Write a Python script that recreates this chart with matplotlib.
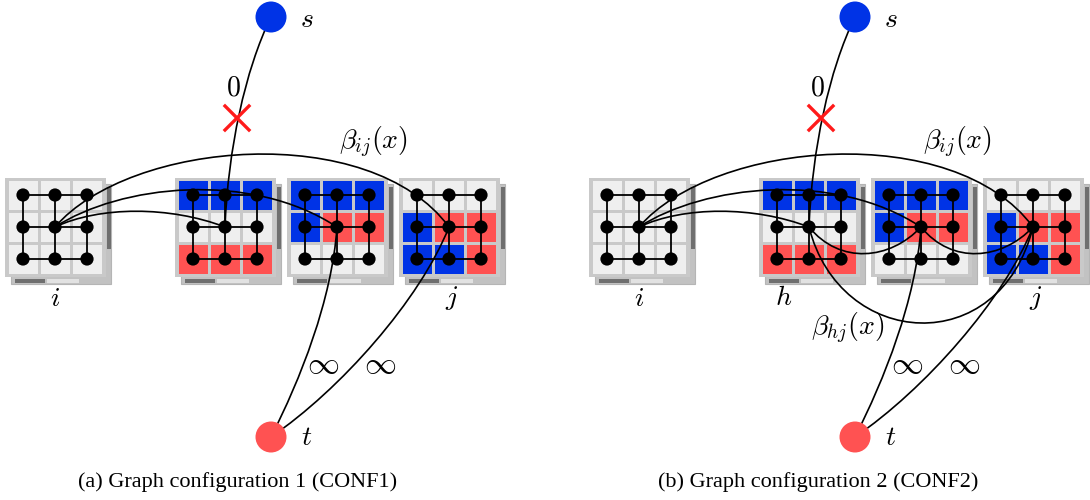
import numpy as np
import matplotlib.pyplot as plt
from matplotlib.patches import Rectangle, Circle, PathPatch
from matplotlib.path import Path

plt.rcParams['mathtext.fontset'] = 'cm'

#------------------------------------------------ Colours & Layout -----------------------------------------------------
BLUE = '#0033e6'
RED = '#ff5252'
LIGHT = '#efefef'
FRAME = '#c9c9c9'
SHADOW = '#c2c2c2'
DARK = '#6f6f6f'

SHIFT_B = 584          # horizontal offset of panel (b)
ROW_Y = 227            # y of the centre row of every grid
STEP = 32              # node spacing inside a grid

# Cell colours per grid (rows top -> bottom), "L" = light grey, "B" = blue, "R" = red
grid_colours = {
    'i':  ["LLL", "LLL", "LLL"],
    'g2': ["BBB", "LLL", "RRR"],
    'g3': ["BBB", "BRR", "LLL"],
    'j':  ["LLL", "BRR", "BBR"],
}
grid_x = {'i': 55, 'g2': 225, 'g3': 337, 'j': 449}
COLMAP = {'L': LIGHT, 'B': BLUE, 'R': RED}

# Source / sink terminals
s_xy = (271, 17)
t_xy = (271, 437)

# Cubic Bezier edges for panel (a): (P0, P1, P2, P3)
edges_a = [
    [(271, 17), (245, 70), (228, 150), (225, 227)],      # s -> grid 2
    [(55, 227), (130, 140), (370, 120), (449, 227)],     # i -> j (beta_ij)
    [(55, 227), (120, 185), (250, 170), (337, 227)],     # i -> grid 3
    [(55, 227), (100, 206), (170, 206), (225, 227)],     # i -> grid 2
    [(271, 437), (300, 380), (332, 300), (337, 227)],    # t -> grid 3
    [(271, 437), (340, 390), (420, 300), (449, 227)],    # t -> j
]
# Extra edges only in panel (b) (already in (b) coordinates)
edges_b_extra = [
    [(809, 227), (840, 265), (890, 260), (921, 227)],    # h -> grid 3
    [(921, 227), (952, 265), (1002, 260), (1033, 227)],  # grid 3 -> j
    [(809, 227), (840, 350), (1000, 360), (1033, 227)],  # h -> j (beta_hj)
]

cross_xy = (237, 118)

fig = plt.figure(figsize=(10.9, 5.0), dpi=100)
ax = fig.add_axes([0, 0, 1, 1])
ax.set_xlim(0, 1090)
ax.set_ylim(500, 0)
ax.axis('off')


def draw_grid(cx, cy, rows):
    # back panel ("shadow" window)
    ax.add_patch(Rectangle((cx - 44, cy - 43), 100, 100, fc=SHADOW, ec='#b5b5b5', lw=0.8, zorder=1))
    ax.add_patch(Rectangle((cx + 52, cy - 40), 3.5, 62, fc=DARK, ec='none', zorder=1.1))
    ax.add_patch(Rectangle((cx - 40, cy + 52), 30, 3.5, fc=DARK, ec='none', zorder=1.1))
    ax.add_patch(Rectangle((cx - 8, cy + 52), 32, 3.5, fc='#e2e2e2', ec='none', zorder=1.1))
    # front frame
    ax.add_patch(Rectangle((cx - 50, cy - 49), 101, 99, fc=FRAME, ec='none', zorder=2))
    for r, row in enumerate(rows):
        for c, code in enumerate(row):
            x = cx + (c - 1) * STEP
            y = cy + (r - 1) * STEP
            ax.add_patch(Rectangle((x - 14.5, y - 14.5), 29, 29, fc=COLMAP[code], ec='none', zorder=2.1))
    # lattice edges
    xs = [cx - STEP, cx, cx + STEP]
    ys = [cy - STEP, cy, cy + STEP]
    for y in ys:
        ax.plot([xs[0], xs[-1]], [y, y], color='black', lw=1.3, zorder=3)
    for x in xs:
        ax.plot([x, x], [ys[0], ys[-1]], color='black', lw=1.3, zorder=3)
    for x in xs:
        for y in ys:
            ax.add_patch(Circle((x, y), 6.6, fc='black', ec='none', zorder=6))


def draw_curve(pts):
    path = Path(pts, [Path.MOVETO, Path.CURVE4, Path.CURVE4, Path.CURVE4])
    ax.add_patch(PathPatch(path, fc='none', ec='black', lw=1.2, zorder=4))


def shift(pts, dx):
    return [(x + dx, y) for x, y in pts]


for dx in (0, SHIFT_B):
    for name in ['i', 'g2', 'g3', 'j']:
        draw_grid(grid_x[name] + dx, ROW_Y, grid_colours[name])
    for e in edges_a:
        draw_curve(shift(e, dx))
    # terminals
    ax.add_patch(Circle((s_xy[0] + dx, s_xy[1]), 15.5, fc=BLUE, ec='none', zorder=6))
    ax.add_patch(Circle((t_xy[0] + dx, t_xy[1]), 15.5, fc=RED, ec='none', zorder=6))
    ax.text(s_xy[0] + dx + 36, s_xy[1] + 2, r'$s$', fontsize=20, ha='center', va='center', zorder=7)
    ax.text(t_xy[0] + dx + 36, t_xy[1] + 0, r'$t$', fontsize=20, ha='center', va='center', zorder=7)
    # cut marker on the s edge
    cx, cy = cross_xy[0] + dx, cross_xy[1]
    ax.plot([cx - 12, cx + 12], [cy - 12, cy + 12], color='#ff1a1a', lw=2.4, zorder=5)
    ax.plot([cx - 12, cx + 12], [cy + 12, cy - 12], color='#ff1a1a', lw=2.4, zorder=5)
    ax.text(233 + dx, 87, r'$0$', fontsize=20, ha='center', va='center')
    ax.text(373 + dx, 142, r'$\beta_{ij}(x)$', fontsize=20, ha='center', va='center')
    ax.text(323 + dx, 365, r'$\infty$', fontsize=23, ha='center', va='center')
    ax.text(380 + dx, 365, r'$\infty$', fontsize=23, ha='center', va='center')
    ax.text(55 + dx, 298, r'$i$', fontsize=20, ha='center', va='center')
    ax.text(452 + dx, 298, r'$j$', fontsize=20, ha='center', va='center')

for e in edges_b_extra:
    draw_curve(e)

ax.text(784, 297, r'$h$', fontsize=20, ha='center', va='center')
ax.text(848, 328, r'$\beta_{hj}(x)$', fontsize=20, ha='center', va='center')

ax.text(238, 482, "(a) Graph configuration 1 (CONF1)", fontsize=16, family='Liberation Serif',
        ha='center', va='center')
ax.text(818, 482, "(b) Graph configuration 2 (CONF2)", fontsize=16, family='Liberation Serif',
        ha='center', va='center')

fig.savefig("out.png", dpi=100)
